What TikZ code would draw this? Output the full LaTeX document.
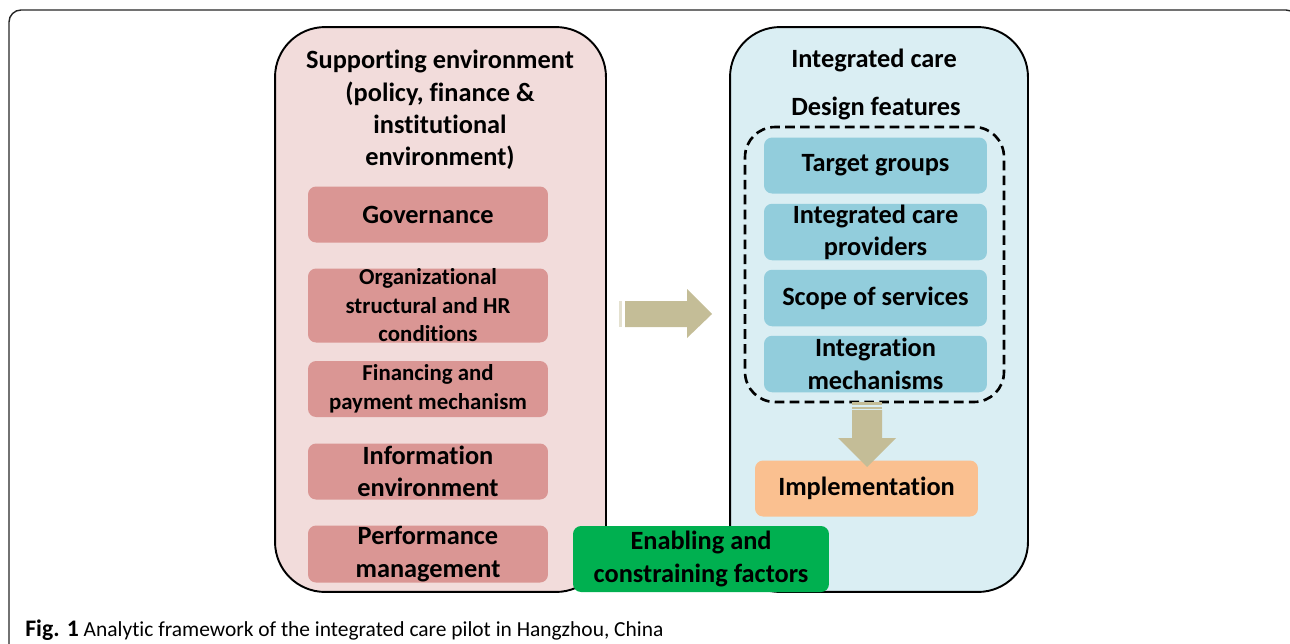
\documentclass[tikz,border=0pt]{standalone}
\usepackage{fontspec}
\setmainfont{Carlito}[Ligatures={NoCommon,NoRare}]
\usepackage{xcolor}
\usetikzlibrary{positioning}

\definecolor{envpink}{HTML}{F2DCDB}
\definecolor{envrose}{HTML}{DA9694}
\definecolor{carelight}{HTML}{DAEEF3}
\definecolor{careblue}{HTML}{92CDDC}
\definecolor{implorange}{HTML}{FAC090}
\definecolor{factorgreen}{HTML}{00B050}
\definecolor{arrowtan}{HTML}{C4BD97}

\tikzset{
  bigbox/.style={draw=black,line width=1.1pt,rounded corners=1cm,minimum width=#1,minimum height=11.3cm},
  envitem/.style={fill=envrose,rounded corners=0.16cm,minimum width=4.8cm,minimum height=1.12cm,align=center,inner sep=0pt,font=\bfseries\fontsize{15}{18.4}\selectfont},
  envsmall/.style={envitem,font=\bfseries\fontsize{13}{16.2}\selectfont},
  careitem/.style={fill=careblue,rounded corners=0.16cm,minimum width=4.46cm,minimum height=1.13cm,align=center,inner sep=0pt,font=\bfseries\fontsize{15}{18.4}\selectfont},
  titletext/.style={align=center,inner sep=0pt,font=\bfseries\fontsize{15}{18.4}\selectfont},
}

\begin{document}
\begin{tikzpicture}[x=0.02cm,y=-0.02cm]
	\useasboundingbox (0,0) rectangle (1290,643);
	\clip (0,0) rectangle (1290,643);
	
	% Outer frame of the figure
	\draw[line width=0.8pt,draw=black!85,rounded corners=0.24cm] (9,660) -- (9,10) -- (1298,10) -- (1298,660);
	
	% Draw the two big boxes
	\node[bigbox=6.62cm,fill=envpink] (Env) at (440.5,309.5) {};
	\node[bigbox=5.96cm,fill=carelight] (Care) at (879,309.5) {};
	
	% Titles
	\node[titletext] (EnvT) at (440,110) {Supporting environment\\(policy, finance \&\\institutional\\environment)};
	\node[titletext] (CareT) at (874,60) {Integrated care};
	\node[titletext] (DesT) at (876,108) {Design features};
	
	% Draw nodes, supporting environment
	\node[envitem] (Gov) at (428,214.5) {Governance};
	\node[envsmall,minimum height=1.48cm] (Org) at (428,305.5) {Organizational\\structural and HR\\conditions};
	\node[envsmall] (Fin) at (428,389) {Financing and\\payment mechanism};
	\node[envitem] (Info) at (428,471.5) {Information\\environment};
	\node[envitem,minimum height=1.14cm] (Perf) at (428,554) {Performance\\management};
	
	% Draw nodes, design features
	\node[draw=black,line width=1.5pt,dash pattern=on 5.5pt off 3pt,rounded corners=0.6cm,minimum width=5.18cm,minimum height=5.5cm] (Des) at (874.5,264.5) {};
	\node[careitem,minimum height=1.12cm] (TG) at (875.5,165.5) {Target groups};
	\node[careitem] (ICP) at (875.5,232) {Integrated care\\providers};
	\node[careitem] (SoS) at (875.5,298) {Scope of services};
	\node[careitem] (IM) at (875.5,364) {Integration\\mechanisms};
	\node[careitem,fill=implorange,minimum height=1.12cm] (Impl) at (866.5,488.5) {Implementation};
	
	% Enabling and constraining factors
	\node[fill=factorgreen,rounded corners=0.16cm,minimum width=5.12cm,minimum height=1.32cm,align=center,inner sep=0pt,font=\bfseries\fontsize{15}{18.4}\selectfont] (EC) at (701,559) {Enabling and\\constraining factors};
	
	% Draw block arrows
	\fill[arrowtan!45] (619,301) rectangle (621.5,327);
	\fill[arrowtan] (625,301) -- (687,301) -- (687,289) -- (712,314) -- (687,338) -- (687,327) -- (625,327) -- cycle;
	\fill[arrowtan] (852,402) rectangle (882,404.5);
	\fill[arrowtan] (852,406.5) rectangle (882,408.5);
	\fill[arrowtan] (852,410) -- (882,410) -- (882,438) -- (896,438) -- (867,467) -- (838,438) -- (852,438) -- cycle;
	
	% Caption
	\node[anchor=base west,inner sep=0pt,font=\fontsize{12.2}{15}\selectfont] (Cap) at (25,636) {{\fontsize{13.5}{15}\selectfont\textbf{Fig. 1}} Analytic framework of the integrated care pilot in Hangzhou, China};
	
\end{tikzpicture}
\end{document}
